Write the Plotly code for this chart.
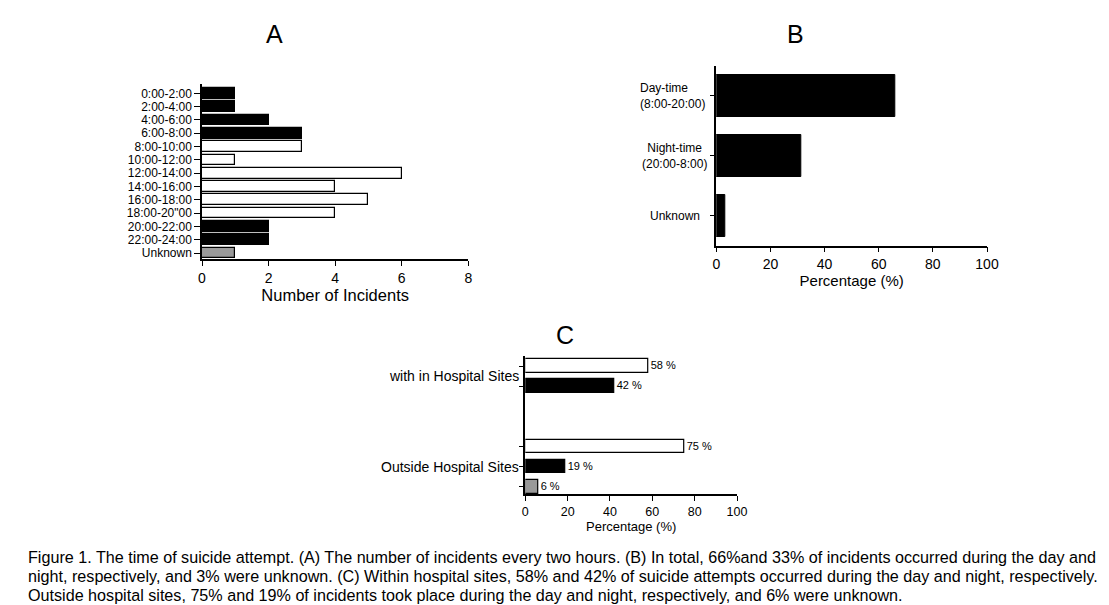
import plotly.graph_objects as go

# ---------------- data ----------------
# Panel A: incidents per two-hour window
a_slots = ["0:00-2:00", "2:00-4:00", "4:00-6:00", "6:00-8:00", "8:00-10:00",
           "10:00-12:00", "12:00-14:00", "14:00-16:00", "16:00-18:00",
           '18:00-20"00', "20:00-22:00", "22:00-24:00", "Unknown"]
a_counts = [1, 1, 2, 3, 3, 1, 6, 4, 5, 4, 2, 2, 1]
a_period = ["night", "night", "night", "night", "day", "day", "day", "day",
            "day", "day", "night", "night", "unknown"]

# Panel B: percentage by period
b_labels = ["Day-time<br>(8:00-20:00)", "Night-time<br>(20:00-8:00)", "Unknown"]
b_values = [66, 31.5, 3.2]

# Panel C: percentage by site and period
c_sites = ["with in Hospital Sites", "Outside Hospital Sites"]
c_inside_values = [58, 42]
c_inside_period = ["day", "night"]
c_outside_values = [75, 19, 6]
c_outside_period = ["day", "night", "unknown"]

caption_lines = [
    "Figure 1. The time of suicide attempt. (A) The number of incidents every two hours. (B) In total, 66%and 33% of incidents occurred during the day and",
    "night, respectively, and 3% were unknown. (C) Within hospital sites, 58% and 42% of suicide attempts occurred during the day and night, respectively.",
    "Outside hospital sites, 75% and 19% of incidents took place during the day and night, respectively, and 6% were unknown.",
]

# ---------------- styling ----------------
FONT = "Arial, Liberation Sans, sans-serif"
COLORS = {"day": "#ffffff", "night": "#000000", "unknown": "#999999"}
W, H = 1109, 605


def px_x(p):
    return p / W


def px_y(p):
    return 1 - p / H


fig = go.Figure()

# Panel A
fig.add_trace(go.Bar(
    x=a_counts, y=a_slots, orientation="h",
    marker=dict(color=[COLORS[p] for p in a_period], line=dict(color="black", width=1.2)),
    width=0.8, xaxis="x", yaxis="y", showlegend=False, hoverinfo="skip",
))

# Panel B
fig.add_trace(go.Bar(
    x=b_values, y=b_labels, orientation="h",
    marker=dict(color="black", line=dict(color="black", width=1)),
    width=0.7, xaxis="x2", yaxis="y2", showlegend=False, hoverinfo="skip",
))

# Panel C: compute positions per group with a gap between groups
c_groups = [(c_inside_values, c_inside_period), (c_outside_values, c_outside_period)]
c_y, c_x, c_col, c_txt, c_group_centers = [], [], [], [], []
pos = 0
GAP = 2
for vals, pers in c_groups:
    start = pos
    for v, p in zip(vals, pers):
        c_y.append(pos)
        c_x.append(v)
        c_col.append(COLORS[p])
        c_txt.append(f"{v} %")
        pos += 1
    c_group_centers.append((start + pos - 1) / 2)
    pos += GAP

fig.add_trace(go.Bar(
    x=c_x, y=c_y, orientation="h",
    marker=dict(color=c_col, line=dict(color="black", width=1.2)),
    width=0.68, text=c_txt, textposition="outside", cliponaxis=False,
    constraintext="none",
    textfont=dict(size=11, color="black", family=FONT),
    xaxis="x3", yaxis="y3", showlegend=False, hoverinfo="skip",
))

axis_common = dict(showline=True, linecolor="black", linewidth=1.5, ticks="outside",
                   ticklen=5, tickwidth=1, tickcolor="black", showgrid=False,
                   zeroline=False, mirror=False, automargin=False)

annotations = []
# category labels in panel B (drawn as annotations to mimic their alignment)
b_label_style = [("left", 707), ("center", 709), ("right", 701.5)]
for i, (lab, (al, rx)) in enumerate(zip(b_labels, b_label_style)):
    annotations.append(dict(text=lab, xref="paper", yref="y2", x=px_x(rx), y=i,
                            xanchor="right", yanchor="middle", align=al, showarrow=False,
                            font=dict(size=12, family=FONT, color="black")))
# group labels in panel C
for name, cy in zip(c_sites, c_group_centers):
    annotations.append(dict(text=name, xref="paper", yref="y3", x=px_x(521), y=cy,
                            xanchor="right", yanchor="middle", showarrow=False,
                            font=dict(size=14, family=FONT, color="black")))
# panel letters
for letter, (lx, ly) in zip(["A", "B", "C"], [(274, 34), (795, 34), (565, 335)]):
    annotations.append(dict(text=letter, xref="paper", yref="paper", x=px_x(lx), y=px_y(ly),
                            xanchor="center", yanchor="middle", showarrow=False,
                            font=dict(size=25, family=FONT, color="black")))
# caption
for line, ly in zip(caption_lines, [556.5, 576, 595]):
    annotations.append(dict(text=line, xref="paper", yref="paper", x=px_x(26), y=px_y(ly),
                            xanchor="left", yanchor="middle", showarrow=False,
                            font=dict(size=16.15, family=FONT, color="black")))

fig.update_layout(
    template="none",
    width=W, height=H, margin=dict(l=0, r=0, t=0, b=0, autoexpand=False),
    paper_bgcolor="white", plot_bgcolor="white",
    font=dict(family=FONT, color="black"),
    bargap=0,
    xaxis=dict(domain=[px_x(202), px_x(468.3)], range=[0, 8], dtick=2, anchor="y",
               tickfont=dict(size=14),
               title=dict(text="Number of Incidents", font=dict(size=16.5), standoff=4),
               **axis_common),
    yaxis=dict(domain=[px_y(259.3), px_y(84)], type="category", categoryarray=a_slots,
               range=[12.47, -0.7], anchor="x", tickfont=dict(size=12), ticklen=6,
               tickmode="linear", tick0=0, dtick=1,
               **{k: v for k, v in axis_common.items() if k != "ticklen"}),
    xaxis2=dict(domain=[px_x(716.3), px_x(987)], range=[0, 100], dtick=20, anchor="y2",
                tickfont=dict(size=14),
                title=dict(text="Percentage (%)", font=dict(size=15), standoff=4),
                **axis_common),
    yaxis2=dict(domain=[px_y(245.7), px_y(66)], type="category", categoryarray=b_labels,
                range=[2.5, -0.5], anchor="x2", showticklabels=False, **axis_common),
    xaxis3=dict(domain=[px_x(525.3), px_x(737)], range=[0, 100], dtick=20, anchor="y3",
                tickfont=dict(size=12.5),
                title=dict(text="Percentage (%)", font=dict(size=13), standoff=2),
                **axis_common),
    yaxis3=dict(domain=[px_y(494.3), px_y(356)], range=[c_y[-1] + 0.38, -0.5], anchor="x3",
                tickvals=c_y, ticktext=[""] * len(c_y), **axis_common),
    annotations=annotations,
)

fig.write_html(
    "out.html",
    config={"displayModeBar": False, "responsive": False},
    post_script="document.body.style.margin='0';document.body.style.overflow='hidden';",
)
